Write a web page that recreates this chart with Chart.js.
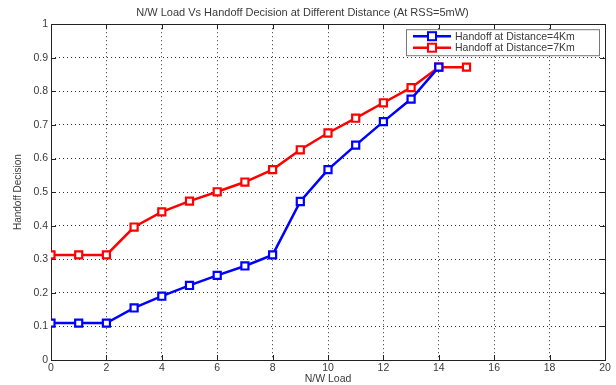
<!DOCTYPE html>
<html>
<head>
<meta charset="utf-8">
<script src="https://cdn.jsdelivr.net/npm/chart.js@4/dist/chart.umd.min.js"></script>
<style>
  html, body { margin: 0; padding: 0; background: #fff; }
  #wrap { width: 616px; height: 385px; }
</style>
</head>
<body>
<div id="wrap"><canvas id="handoffChart"></canvas></div>
<script>
// values
const loadNear = [0, 1, 2, 3, 4, 5, 6, 7, 8, 9, 10, 11, 12, 13, 14];
const decisionNear = [0.11, 0.11, 0.11, 0.155, 0.19, 0.222, 0.252, 0.28, 0.313, 0.472, 0.567, 0.64, 0.71, 0.777, 0.872];
const loadFar = [0, 1, 2, 3, 4, 5, 6, 7, 8, 9, 10, 11, 12, 13, 14, 15];
const decisionFar = [0.313, 0.313, 0.313, 0.396, 0.441, 0.473, 0.501, 0.53, 0.567, 0.626, 0.676, 0.72, 0.766, 0.811, 0.872, 0.872];
const seriesNames = ["Handoff at Distance=4Km", "Handoff at Distance=7Km"];
const xTicks = [0, 2, 4, 6, 8, 10, 12, 14, 16, 18, 20];
const yTicks = [0, 0.1, 0.2, 0.3, 0.4, 0.5, 0.6, 0.7, 0.8, 0.9, 1];

const toPoints = (xs, ys) => xs.map((x, i) => ({ x: x, y: ys[i] }));
const textCol = "#3a3a3a";
const fontFam = "'Liberation Sans', Arial, sans-serif";

// axes box + inward tick marks, matlab style
const boxPlugin = {
  id: "box",
  beforeDatasetsDraw(chart) {
    const { ctx, chartArea: a, scales } = chart;
    ctx.save();
    ctx.strokeStyle = "#222";
    ctx.lineWidth = 1;
    ctx.beginPath();
    xTicks.forEach(v => {
      const px = Math.round(scales.x.getPixelForValue(v)) + 0.5;
      ctx.moveTo(px, a.bottom); ctx.lineTo(px, a.bottom - 5);
      ctx.moveTo(px, a.top); ctx.lineTo(px, a.top + 5);
    });
    yTicks.forEach(v => {
      const py = Math.round(scales.y.getPixelForValue(v)) + 0.5;
      ctx.moveTo(a.left, py); ctx.lineTo(a.left + 5, py);
      ctx.moveTo(a.right, py); ctx.lineTo(a.right - 5, py);
    });
    ctx.stroke();
    ctx.strokeRect(Math.round(a.left) + 0.5, Math.round(a.top) + 0.5,
      Math.round(a.right - a.left), Math.round(a.bottom - a.top));
    ctx.restore();
  }
};

// legend box in the top right corner of the plot
const legendPlugin = {
  id: "cornerLegend",
  afterDatasetsDraw(chart) {
    const { ctx, chartArea: a } = chart;
    const w = 193, h = 26;
    const x0 = a.right - 6 - w, y0 = a.top + 5;
    ctx.save();
    ctx.fillStyle = "#fff";
    ctx.fillRect(x0, y0, w, h);
    ctx.strokeStyle = "#777";
    ctx.lineWidth = 1;
    ctx.strokeRect(x0 + 0.5, y0 + 0.5, w, h);
    ctx.font = "10.5px " + fontFam;
    ctx.textBaseline = "middle";
    chart.data.datasets.forEach((ds, i) => {
      const y = y0 + 7 + i * 11.5;
      ctx.strokeStyle = ds.borderColor;
      ctx.lineWidth = 2.5;
      ctx.beginPath();
      ctx.moveTo(x0 + 7, y); ctx.lineTo(x0 + 45, y);
      ctx.stroke();
      ctx.fillStyle = "#fff";
      ctx.lineWidth = 2;
      ctx.fillRect(x0 + 22, y - 4, 8, 8);
      ctx.strokeRect(x0 + 22, y - 4, 8, 8);
      ctx.fillStyle = textCol;
      ctx.fillText(ds.label, x0 + 49, y + 0.5);
    });
    ctx.restore();
  }
};

const mkSet = (label, xs, ys, col) => ({
  label: label,
  data: toPoints(xs, ys),
  borderColor: col,
  backgroundColor: "#fff",
  borderWidth: 2.5,
  pointStyle: "rect",
  pointRadius: 5,
  pointBorderWidth: 2.2,
  pointBackgroundColor: "#fff",
  pointBorderColor: col,
  tension: 0
});

new Chart(document.getElementById("handoffChart"), {
  type: "line",
  data: {
    datasets: [
      mkSet(seriesNames[0], loadNear, decisionNear, "#0000ff"),
      mkSet(seriesNames[1], loadFar, decisionFar, "#ff0000")
    ]
  },
  options: {
    responsive: true,
    maintainAspectRatio: false,
    animation: false,
    layout: { padding: { left: 0, right: 11, top: 0, bottom: 0 } },
    plugins: {
      legend: { display: false },
      tooltip: { enabled: false },
      title: {
        display: true,
        text: "N/W Load Vs Handoff Decision at Different Distance (At RSS=5mW)",
        color: textCol,
        font: { family: fontFam, size: 11, weight: "normal" },
        padding: { top: 6, bottom: 5 }
      }
    },
    scales: {
      x: {
        type: "linear",
        min: 0, max: 20,
        afterFit(s) { s.height = 25; },
        afterBuildTicks(s) { s.ticks = xTicks.map(v => ({ value: v })); },
        ticks: { color: textCol, font: { family: fontFam, size: 10.5 }, padding: 2, maxRotation: 0 },
        grid: { color: "#333", lineWidth: 1, drawTicks: false },
        border: { display: false, dash: [1, 3] },
        title: {
          display: true, text: "N/W Load", color: textCol,
          font: { family: fontFam, size: 10.5 }, padding: { top: 0, bottom: 0 }
        }
      },
      y: {
        type: "linear",
        min: 0, max: 1,
        afterFit(s) { s.width = 51; },
        afterBuildTicks(s) { s.ticks = yTicks.map(v => ({ value: v })); },
        ticks: {
          color: textCol, font: { family: fontFam, size: 10.5 }, padding: 3,
          callback: v => String(Math.round(v * 10) / 10)
        },
        grid: { color: "#333", lineWidth: 1, drawTicks: false },
        border: { display: false, dash: [1, 3] },
        title: {
          display: true, text: "Handoff Decision", color: textCol,
          font: { family: fontFam, size: 10 }, padding: { top: 12, bottom: 0 }
        }
      }
    }
  },
  plugins: [boxPlugin, legendPlugin]
});
</script>
</body>
</html>
